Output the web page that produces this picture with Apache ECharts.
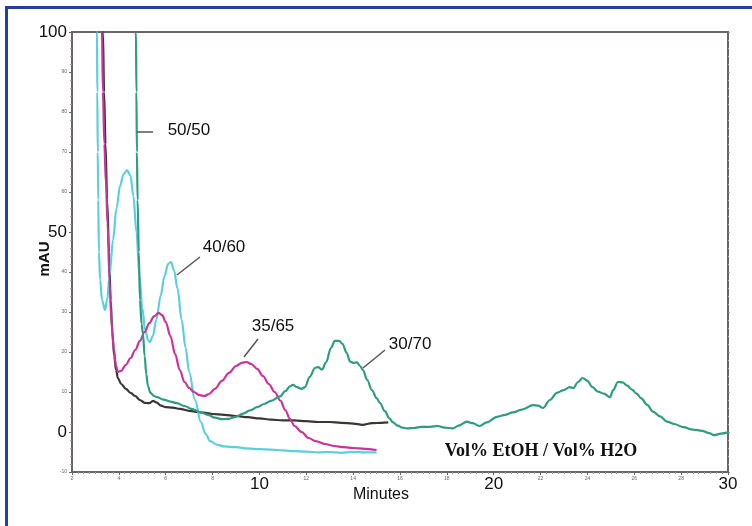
<!DOCTYPE html>
<html>
<head>
<meta charset="utf-8">
<script src="https://cdn.jsdelivr.net/npm/echarts@6/dist/echarts.min.js"></script>
<style>
  html, body { margin: 0; padding: 0; background: #fff; }
  #chart { width: 752px; height: 526px; }
</style>
</head>
<body>
<div id="chart"></div>
<script>
// Chromatograms: absorbance (mAU) vs. retention time (minutes), [time, mAU]
const trace5050 = [
  [3.28,110],[3.32,100],[3.37,85],[3.43,72],[3.5,58],[3.58,45],[3.65,33],[3.72,25],[3.8,19],[3.88,15.5],
  [3.96,13.5],[4.1,12],[4.3,10.8],[4.5,9.8],[4.7,9],[4.9,8],[5.1,7.3],[5.3,7.2],[5.46,7.8],[5.6,7.4],
  [5.8,6.6],[6.0,6.2],[6.3,6.1],[6.6,5.8],[7.0,5.3],[7.5,4.9],[8.0,4.5],[8.5,4.3],[9.0,4.0],[9.5,3.7],
  [10.0,3.4],[10.5,3.1],[11.0,2.9],[11.5,2.9],[12.0,2.7],[12.5,2.5],[13.0,2.5],[13.5,2.3],[14.0,2.1],
  [14.4,1.8],[14.8,2.2],[15.2,2.3],[15.5,2.4]
];
const trace4060 = [
  [3.02,110],[3.07,100],[3.08,85],[3.1,70],[3.12,58],[3.15,45],[3.2,38],[3.28,33],[3.41,30.5],[3.5,33],
  [3.6,39],[3.75,48],[3.9,56],[4.05,61.5],[4.2,64.5],[4.35,65.5],[4.5,64],[4.62,59],[4.75,50],[4.88,39],
  [5.0,31],[5.12,25.5],[5.25,23],[5.33,22.5],[5.45,24],[5.6,28],[5.78,34],[5.95,39],[6.1,42],[6.23,42.5],
  [6.35,40.5],[6.5,36],[6.68,28],[6.85,21],[7.0,15],[7.25,8],[7.5,2.5],[7.7,-0.5],[7.9,-2.3],[8.2,-3.2],
  [8.5,-3.6],[9.0,-3.8],[9.5,-4.1],[10.0,-4.3],[10.5,-4.4],[11.0,-4.6],[11.5,-4.8],[12.0,-4.9],
  [12.5,-5.1],[13.0,-5.0],[13.5,-5.2],[14.0,-5.0],[14.5,-5.1],[15.0,-5.1]
];
const trace3565 = [
  [3.25,110],[3.28,100],[3.32,85],[3.38,72],[3.45,62],[3.52,52],[3.6,38],[3.68,28],[3.78,21],[3.88,16.5],
  [3.96,15],[4.1,15.3],[4.3,16.8],[4.5,18.5],[4.7,20.5],[4.9,22.8],[5.1,25],[5.3,27.2],[5.5,28.9],
  [5.7,29.8],[5.85,29.2],[6.0,27.5],[6.2,24],[6.4,19.5],[6.6,15.5],[6.8,12.5],[7.0,11],[7.2,10],
  [7.45,9.2],[7.65,9],[7.85,9.5],[8.1,10.8],[8.4,12.8],[8.7,14.8],[9.0,16.5],[9.25,17.3],[9.45,17.5],
  [9.65,17],[9.9,15.8],[10.15,14],[10.4,12],[10.65,10],[10.9,7.8],[11.1,5.5],[11.3,3.3],[11.5,1.5],
  [11.8,0],[12.1,-1.5],[12.4,-2.3],[12.8,-3.0],[13.2,-3.5],[13.6,-3.8],[14.0,-4.0],[14.5,-4.2],[15.0,-4.5]
];
const trace3070 = [
  [4.7,110],[4.73,100],[4.75,85],[4.77,70],[4.8,58],[4.85,45],[4.9,33],[4.97,27],[5.03,24.5],[5.1,19],
  [5.17,14.5],[5.24,11.5],[5.35,9.8],[5.5,9],[5.63,8.7],[5.9,8.1],[6.2,7.6],[6.48,7.2],[6.8,6.5],
  [7.1,5.8],[7.46,5],[7.8,4.3],[8.1,3.6],[8.4,3.2],[8.7,3.3],[9.0,3.8],[9.3,4.6],[9.6,5.4],[9.9,6.2],
  [10.2,7.0],[10.5,7.8],[10.88,8.9],[11.1,10.2],[11.3,11.4],[11.43,11.8],[11.6,11.2],[11.8,10.8],
  [11.94,11.2],[12.15,13.8],[12.37,16],[12.5,16.2],[12.67,15.6],[12.85,17.5],[13.05,21],[13.22,22.8],
  [13.4,22.8],[13.55,22],[13.72,19.8],[13.87,17.6],[14.0,17.3],[14.16,17.4],[14.3,16.5],[14.42,15.5],
  [14.6,13],[14.8,10.5],[15.0,8.5],[15.15,7.2],[15.35,5.2],[15.55,3.4],[15.7,2.4],[15.9,1.6],[16.1,1.1],
  [16.3,0.9],[16.6,1.0],[16.9,1.3],[17.28,1.3],[17.6,1.5],[17.9,1.1],[18.26,0.9],[18.5,1.6],[18.86,2.6],
  [19.1,2.2],[19.4,1.5],[19.7,2.4],[20.14,3.8],[20.5,4.3],[20.82,4.9],[21.2,5.6],[21.68,6.7],[21.9,6.6],
  [22.1,6.0],[22.4,8.0],[22.7,9.8],[22.95,10.4],[23.25,11.2],[23.4,11.0],[23.6,12.5],[23.8,13.5],
  [24.0,12.8],[24.2,11.3],[24.45,10.1],[24.7,9.6],[24.96,8.7],[25.1,10.5],[25.3,12.5],[25.5,12.4],
  [25.7,11.6],[25.9,10.6],[26.1,9.6],[26.3,8.4],[26.55,6.8],[26.8,5.1],[27.1,3.9],[27.4,2.6],[27.7,2.0],
  [28.1,1.2],[28.5,0.6],[28.9,0.3],[29.2,-0.3],[29.4,-0.8],[29.7,-0.4],[30.0,-0.1]
];

// Axis ranges and the tick values printed in large type
const xRange = [2, 30];
const yRange = [-10, 100];
const xMajorLabels = [10, 20, 30];
const yMajorLabels = [0, 50, 100];

// Composition labels: text, label centre [min, mAU], leader line start and end
const compLabels = ['50/50', '40/60', '35/65', '30/70'];
const labelAt = [[6.99, 75.5], [8.49, 46.25], [10.58, 26.5], [16.43, 22]];
const leaderFrom = [[4.77, 75], [6.48, 39.25], [9.34, 18.75], [14.42, 16]];
const leaderTo = [[5.46, 75], [7.46, 43.75], [9.94, 23.25], [15.36, 20.5]];

const traces = [trace5050, trace4060, trace3565, trace3070];
const colors = ['#3d3434', '#5ccfdc', '#cc3399', '#2e9c84'];

const FONT = "'Liberation Sans', Arial, sans-serif";
const inkColor = '#111';
const axisColor = '#6a6464';

function tickLabel(bigValues) {
  return {
    margin: 4,
    formatter: v => bigValues.includes(v) ? '{big|' + v + '}' : '{small|' + v + '}',
    rich: {
      big: { fontSize: 17, fontFamily: FONT, color: inkColor },
      small: { fontSize: 5, fontFamily: FONT, color: '#666' }
    }
  };
}

const series = traces.map((d, i) => ({
  name: compLabels[i],
  type: 'line',
  data: d,
  showSymbol: false,
  smooth: 0.35,
  smoothMonotone: 'x',
  clip: true,
  lineStyle: { color: colors[i], width: 2.2 },
  z: 3,
  markLine: {
    silent: true,
    symbol: 'none',
    label: { show: false },
    lineStyle: { color: '#555', width: 1.5, type: 'solid' },
    data: [[{ coord: leaderFrom[i] }, { coord: leaderTo[i] }]]
  },
  markPoint: {
    silent: true,
    symbol: 'circle',
    symbolSize: 0,
    data: [{ coord: labelAt[i] }],
    label: {
      show: true,
      position: 'inside',
      formatter: compLabels[i],
      fontSize: 17,
      fontFamily: FONT,
      color: inkColor
    }
  }
}));

const chart = echarts.init(document.getElementById('chart'), null, { renderer: 'canvas' });
chart.setOption({
  backgroundColor: '#fff',
  animation: false,
  grid: {
    left: 72, right: 24, top: 32, bottom: 54,
    show: true, borderColor: axisColor, borderWidth: 2, backgroundColor: 'transparent'
  },
  xAxis: {
    type: 'value', min: xRange[0], max: xRange[1], interval: 2,
    axisLine: { show: true, onZero: false, lineStyle: { color: axisColor, width: 2 } },
    axisTick: { show: true, length: 3, lineStyle: { color: axisColor } },
    minorTick: { show: true, splitNumber: 8, length: 2, lineStyle: { color: '#999' } },
    splitLine: { show: false },
    axisLabel: tickLabel(xMajorLabels)
  },
  yAxis: [{
    type: 'value', min: yRange[0], max: yRange[1], interval: 10,
    axisLine: { show: true, onZero: false, lineStyle: { color: axisColor, width: 2 } },
    axisTick: { show: true, length: 3, lineStyle: { color: axisColor } },
    minorTick: { show: true, splitNumber: 5, length: 2, lineStyle: { color: '#999' } },
    splitLine: { show: false },
    axisLabel: Object.assign(tickLabel(yMajorLabels), { margin: 5 })
  }, {
    type: 'value', min: yRange[0], max: yRange[1], interval: 10, position: 'right',
    axisLine: { show: true, onZero: false, lineStyle: { color: axisColor, width: 2 } },
    axisTick: { show: true, length: 2, lineStyle: { color: '#999' } },
    minorTick: { show: true, splitNumber: 5, length: 1, lineStyle: { color: '#bbb' } },
    splitLine: { show: false },
    axisLabel: { show: false }
  }],
  series: series,
  graphic: [
    {
      type: 'rect', silent: true, z: 0,
      shape: { x: 6.5, y: 7.5, width: 800, height: 600 },
      style: { fill: 'none', stroke: '#23409c', lineWidth: 3 }
    },
    {
      type: 'text', silent: true, x: 45, y: 259, rotation: Math.PI / 2,
      style: { text: 'mAU', font: "bold 15px " + FONT, fill: inkColor, align: 'center', verticalAlign: 'middle' }
    },
    {
      type: 'text', silent: true, x: 381, y: 495,
      style: { text: 'Minutes', font: "16px " + FONT, fill: inkColor, align: 'center', verticalAlign: 'middle' }
    },
    {
      type: 'text', silent: true, x: 541, y: 451,
      style: { text: 'Vol% EtOH / Vol% H2O', font: "bold 18px 'Liberation Serif', 'Times New Roman', serif", fill: inkColor, align: 'center', verticalAlign: 'middle' }
    }
  ]
});
</script>
</body>
</html>
